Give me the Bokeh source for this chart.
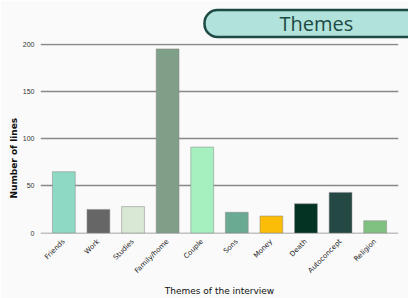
from bokeh.plotting import figure
from bokeh.models import FactorRange, Range1d, Title, ColumnDataSource, FixedTicker
from bokeh.embed import file_html
from bokeh.resources import INLINE
import math

themes = ["Friends", "Work", "Studies", "Family/home", "Couple", "Sons", "Money", "Death", "Autoconcept", "Religion"]
lines = [65, 25, 28, 195, 91, 22, 18, 31, 43, 13]
colors = ["#8dd9c3", "#666666", "#d8e8d4", "#7f9f88", "#a6f0c0", "#6aaa92", "#fbbd08", "#033322", "#244844", "#80c080"]
y_ticks = [0, 50, 100, 150, 200]

BG = "#fafafa"

src = ColumnDataSource(dict(theme=themes, lines=lines, color=colors))

p = figure(frame_width=358, frame_height=190, output_backend="svg", toolbar_location=None,
           x_range=FactorRange(factors=themes, range_padding=0.035),
           y_range=Range1d(-0.5, 200.7),
           min_border_left=40, min_border_right=10, min_border_top=43, min_border_bottom=57,
           background_fill_color=BG, border_fill_color=BG, outline_line_color=None)

p.vbar(x="theme", top="lines", width=0.66, source=src, fill_color="color",
       line_color="#888888", line_alpha=0.5, line_width=1)

p.xgrid.grid_line_color = None
p.ygrid.grid_line_color = "#888888"
p.ygrid.grid_line_width = 1.6
p.ygrid.ticker = FixedTicker(ticks=y_ticks)

ya = p.yaxis[0]
ya.ticker = FixedTicker(ticks=y_ticks)
ya.axis_line_color = None
ya.major_tick_line_color = None
ya.minor_tick_line_color = None
ya.major_tick_out = 0
ya.major_label_text_font = "Liberation Sans"
ya.major_label_text_font_size = "7px"
ya.major_label_text_color = "#333333"
ya.major_label_standoff = 6

xa = p.xaxis[0]
xa.axis_line_color = None
xa.major_tick_line_color = None
xa.minor_tick_line_color = None
xa.major_tick_out = 0
xa.major_label_orientation = math.pi / 4
xa.major_label_text_font = "DejaVu Sans"
xa.major_label_text_font_size = "7px"
xa.major_label_text_color = "#222222"
xa.major_label_standoff = 7
xa.axis_label = "Themes of the interview"
xa.axis_label_text_font = "DejaVu Sans"
xa.axis_label_text_font_size = "9px"
xa.axis_label_text_font_style = "normal"
xa.axis_label_text_color = "#111111"
xa.axis_label_standoff = 5

ytitle = Title(text="Number of lines", align="left", offset=35,
               text_font="DejaVu Sans", text_font_size="9px", text_font_style="bold",
               text_color="#111111", standoff=2)
p.add_layout(ytitle, "left")

pill = Title(text="Themes", align="left", offset=164,
             text_font="Open Sans", text_font_size="20px", text_font_style="normal",
             text_color="#1d4a44",
             background_fill_color="#b2e2dc", border_line_color="#1d4a44",
             border_line_width=2.5, border_radius=13, padding=(75, 0), standoff=13)
p.add_layout(pill, "above")

open("out.html", "w").write(file_html(p, INLINE))
